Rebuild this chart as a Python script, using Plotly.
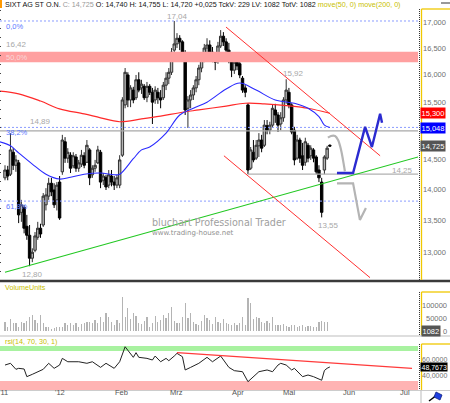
import numpy as np
import plotly.graph_objects as go

W, H = 450, 403
def PX(x): return x / W
def PY(y): return 1 - y / H

# ---------------- data ----------------
day_idx = list(range(120))  # trading-day index, 0 = first day shown (Dec 2011)

opens = [14.19, 14.32, 14.25, 14.62, 14.40, 14.44, 13.63, 13.71, 13.41, 13.27,
         12.92, 13.04, 13.24, 13.38, 13.43, 13.75, 13.89, 14.10, 13.99, 13.83,
         14.12, 14.29, 14.80, 14.52, 14.57, 14.39, 14.54, 14.35, 14.42, 14.56,
         14.45, 14.66, 14.24, 14.35, 14.44, 14.62, 14.15, 14.20, 14.07, 14.22,
         14.12, 14.07, 14.07, 14.57, 15.45, 16.00, 15.54, 15.72, 15.58, 15.91,
         15.76, 15.79, 15.59, 15.79, 15.68, 15.54, 15.68, 15.58, 15.58, 15.81,
         15.94, 16.05, 16.47, 16.59, 16.70, 16.63, 16.38, 15.39, 15.54, 15.63,
         15.76, 15.91, 16.13, 16.32, 16.51, 16.57, 16.43, 16.32, 16.28, 16.55,
         16.74, 16.63, 16.47, 16.32, 16.09, 16.24, 16.21, 15.94, 15.76, 15.45,
         14.35, 14.62, 14.52, 14.73, 14.83, 14.74, 15.08, 15.00, 15.09, 15.36,
         15.27, 15.11, 15.22, 15.54, 15.68, 15.45, 15.00, 14.52, 14.83, 14.56,
         14.45, 14.74, 14.56, 14.66, 14.54, 14.32, 14.12, 14.32, 14.52, 14.740]
closes = [14.32, 14.22, 14.66, 14.40, 14.49, 13.59, 13.75, 13.38, 13.27, 12.92,
          13.01, 13.26, 13.38, 13.29, 13.89, 13.91, 14.10, 13.96, 13.75, 14.07,
          13.54, 14.83, 14.52, 14.62, 14.35, 14.56, 14.35, 14.44, 14.57, 14.40,
          14.74, 14.19, 14.35, 14.40, 14.66, 14.12, 14.22, 14.04, 14.24, 14.12,
          14.07, 14.19, 14.49, 15.54, 16.05, 15.54, 15.76, 15.54, 15.91, 15.72,
          15.83, 15.58, 15.79, 15.68, 15.50, 15.72, 15.58, 15.54, 15.81, 15.94,
          16.05, 16.43, 16.59, 16.70, 16.63, 16.43, 15.36, 15.54, 15.63, 15.76,
          15.91, 16.13, 16.32, 16.51, 16.57, 16.43, 16.32, 16.24, 16.55, 16.74,
          16.63, 16.47, 16.32, 16.09, 16.24, 16.17, 16.00, 15.72, 15.68, 14.32,
          14.66, 14.49, 14.74, 14.83, 14.69, 15.09, 15.00, 15.09, 15.39, 15.27,
          15.09, 15.22, 15.54, 15.72, 15.45, 14.97, 14.49, 14.83, 14.52, 14.40,
          14.80, 14.52, 14.69, 14.52, 14.29, 14.19, 13.63, 14.54, 14.69, 14.725]
highs = [14.40, 14.39, 14.95, 14.69, 14.57, 14.49, 13.83, 13.75, 13.59, 13.43,
         13.07, 13.32, 13.48, 13.45, 13.94, 14.02, 14.19, 14.19, 14.10, 14.12,
         14.22, 14.92, 14.88, 14.69, 14.62, 14.62, 14.59, 14.49, 14.66, 14.62,
         14.83, 14.69, 14.40, 14.49, 14.73, 14.66, 14.27, 14.24, 14.32, 14.32,
         14.22, 14.24, 14.57, 15.59, 16.13, 16.05, 15.81, 15.78, 16.00, 16.05,
         15.91, 15.83, 15.87, 15.83, 15.76, 15.79, 15.76, 15.72, 15.87, 16.05,
         16.13, 16.51, 17.04, 16.80, 16.76, 16.66, 16.47, 15.61, 15.72, 15.81,
         15.98, 16.19, 16.43, 16.59, 16.70, 16.66, 16.53, 16.43, 16.63, 16.86,
         16.82, 16.70, 16.61, 16.36, 16.28, 16.32, 16.28, 15.98, 15.81, 15.48,
         14.71, 14.83, 14.83, 14.95, 14.92, 15.18, 15.18, 15.15, 15.45, 15.47,
         15.32, 15.32, 15.59, 15.92, 15.76, 15.48, 15.06, 14.92, 14.87, 14.78,
         14.87, 14.78, 14.74, 14.69, 14.57, 14.40, 14.19, 14.57, 14.73, 14.755]
lows = [14.15, 14.15, 14.22, 14.32, 14.29, 13.46, 13.48, 13.30, 13.20, 12.80,
        12.86, 13.01, 13.20, 13.23, 13.40, 13.66, 13.83, 13.89, 13.70, 13.66,
        13.51, 14.24, 14.44, 14.44, 14.27, 14.35, 14.29, 14.29, 14.37, 14.35,
        14.44, 14.07, 14.19, 14.29, 14.42, 14.02, 14.07, 13.99, 14.02, 14.05,
        13.99, 14.02, 14.02, 14.54, 15.39, 15.41, 15.41, 15.48, 15.54, 15.68,
        15.65, 15.54, 15.50, 15.63, 15.11, 15.47, 15.47, 15.39, 15.54, 15.72,
        15.83, 16.00, 16.40, 16.51, 16.47, 16.34, 15.27, 15.04, 15.39, 15.54,
        15.68, 15.81, 16.05, 16.24, 16.38, 16.36, 16.24, 16.09, 16.21, 16.51,
        16.55, 16.40, 16.22, 15.96, 16.02, 16.09, 15.94, 15.67, 15.59, 14.25,
        14.32, 14.45, 14.49, 14.54, 14.62, 14.71, 14.93, 14.93, 15.04, 15.13,
        14.97, 15.00, 15.15, 15.47, 15.39, 14.93, 14.40, 14.49, 14.44, 14.32,
        14.39, 14.45, 14.49, 14.45, 14.25, 14.12, 13.55, 14.25, 14.49, 14.720]
volume = [37000, 17000, 46000, 30000, 30000, 17000, 37000, 33000, 41000, 56000,
          63000, 43000, 33000, 63000, 33000, 17000, 14000, 7000, 10000, 17000,
          14000, 17000, 30000, 24000, 33000, 24000, 30000, 14000, 28000, 33000,
          37000, 37000, 33000, 43000, 33000, 56000, 37000, 70000, 56000, 37000,
          24000, 43000, 33000, 135000, 56000, 89000, 46000, 70000, 59000, 33000,
          28000, 41000, 56000, 17000, 33000, 59000, 37000, 43000, 63000, 50000,
          72000, 96000, 41000, 33000, 30000, 56000, 111000, 50000, 70000, 37000,
          28000, 24000, 41000, 63000, 50000, 43000, 28000, 54000, 37000, 30000,
          46000, 33000, 28000, 24000, 30000, 24000, 30000, 56000, 24000, 129000,
          111000, 46000, 54000, 50000, 37000, 30000, 41000, 33000, 56000, 24000,
          24000, 24000, 28000, 20000, 17000, 24000, 24000, 17000, 20000, 24000,
          17000, 20000, 20000, 17000, 17000, 37000, 41000, 37000, 37000, 1082]

ma50_idx = [-2, 2, 5, 10, 15, 20, 24, 29, 35, 40, 42, 47, 50, 53, 59, 64, 69, 74,
            81, 86, 92, 99, 106, 111, 115, 117, 119]
ma50_val = [14.80, 14.73, 14.61, 14.42, 14.25, 14.17, 14.20, 14.25, 14.27, 14.24,
            14.25, 14.51, 14.66, 14.71, 14.95, 15.27, 15.39, 15.50, 15.74, 15.85,
            15.72, 15.54, 15.48, 15.39, 15.24, 15.09, 15.048]
ma200_idx = [-2, 5, 13, 20, 29, 35, 42, 50, 57, 64, 71, 81, 88, 95, 105, 111, 119]
ma200_val = [15.70, 15.65, 15.52, 15.38, 15.29, 15.22, 15.15, 15.20, 15.25, 15.31,
             15.36, 15.43, 15.48, 15.47, 15.43, 15.39, 15.300]

rsi_idx = [0, 2, 4, 5, 7, 8, 10, 14, 16, 18, 20, 21, 23, 27, 30, 32, 35, 37, 40, 42,
           44, 45, 47, 48, 49, 52, 54, 55, 57, 59, 60, 62, 63, 65, 66, 68, 71, 74,
           76, 79, 82, 84, 87, 89, 90, 92, 93, 96, 98, 100, 101, 103, 105, 106,
           109, 111, 113, 116, 117, 118, 119]
rsi_val = [51.3, 53.6, 45.6, 46.9, 46.0, 35.8, 38.9, 45.6, 53.6, 46.9, 51.3, 60.2,
           55.7, 55.7, 53.6, 55.7, 48.2, 53.6, 46.9, 55.7, 75.7, 71.3, 61.6, 67.8,
           61.6, 60.2, 58.0, 63.3, 55.7, 60.2, 57.1, 63.3, 66.9, 62.4, 44.7, 48.2,
           53.6, 61.6, 55.7, 63.3, 48.2, 43.8, 42.4, 29.1, 32.2, 38.0, 42.4, 44.7,
           42.4, 51.3, 53.6, 51.3, 44.7, 46.9, 35.8, 38.0, 35.8, 31.0, 44.0, 47.0,
           48.7673]
rsi_trend_idx = [63, 149.1]
rsi_trend_val = [67.8, 46.9]

# drawings (index, price)
green_idx = [0, 151.3]
green_val = [12.71, 14.54]
chan_up_idx = [80.95, 137.4]
chan_up_val = [16.92, 14.56]
chan_lo_idx = [80.2, 133.7]
chan_lo_val = [14.56, 12.63]
proj_blue_idx = [121.6, 127.5, 131.9, 134.4, 137.4, 138.1]
proj_blue_val = [14.27, 14.27, 15.06, 14.71, 15.29, 15.13]
proj_gray1_idx = [118.3, 119.4, 120.9, 122.0, 123.1, 123.8, 124.5]
proj_gray1_val = [14.87, 14.90, 14.90, 14.83, 14.66, 14.49, 14.30]
proj_gray2_idx = [121.6, 127.5, 130.0, 132.2]
proj_gray2_val = [14.10, 14.10, 13.51, 13.70]

fib_levels = [17.04, 15.05, 13.81]
fib_names = ["0,0%", "38,2%", "61,8%"]
band_lo, band_hi = 16.24, 16.44
gray_full = 14.99
gray_support = 14.25
gray_support_start = 89

month_pos = [-0.4, 20, 42.5, 63, 85.5, 104, 126, 146.5]
month_lbl = ["'11", "'12", "Feb", "Mrz", "Apr", "Mai", "Jun", "Jul"]
price_ticks = [13.0, 13.5, 14.0, 14.5, 15.5, 16.0, 16.5, 17.0]   # 15,000 is hidden behind value boxes
vol_ticks = [0, 50000, 100000]
rsi_ticks = [40, 60]

def de(v, n):
    return f"{v:.{n}f}".replace(".", ",")

XL, XR = -1.83, 151.28
fig = go.Figure()

# red resistance band
fig.add_trace(go.Scatter(x=[XL, XR, XR, XL, XL], y=[band_lo, band_lo, band_hi, band_hi, band_lo],
                         mode="lines", fill="toself", fillcolor="#ffa0a0", line=dict(width=0),
                         hoverinfo="skip"))
# fib lines
for lv in fib_levels:
    fig.add_trace(go.Scatter(x=[XL, XR], y=[lv, lv], mode="lines",
                             line=dict(color="#8a9cff", width=1, dash="2px,2px"), hoverinfo="skip"))
# gray horizontals
fig.add_trace(go.Scatter(x=[XL, XR], y=[gray_full, gray_full], mode="lines",
                         line=dict(color="#a8a8a8", width=1.3), hoverinfo="skip"))
fig.add_trace(go.Scatter(x=[gray_support_start, XR], y=[gray_support, gray_support], mode="lines",
                         line=dict(color="#b0b0b0", width=1.3), hoverinfo="skip"))
# moving averages
fig.add_trace(go.Scatter(x=ma200_idx, y=ma200_val, mode="lines",
                         line=dict(color="#ff2a2a", width=1.2, shape="spline"), hoverinfo="skip"))
fig.add_trace(go.Scatter(x=ma50_idx, y=ma50_val, mode="lines",
                         line=dict(color="#2a2aff", width=1.1, shape="spline"), hoverinfo="skip"))
# candles
fig.add_trace(go.Candlestick(x=day_idx, open=opens, high=highs, low=lows, close=closes,
                             increasing=dict(line=dict(color="#303030", width=1), fillcolor="#b4b4b4"),
                             decreasing=dict(line=dict(color="#000000", width=1), fillcolor="#000000"),
                             whiskerwidth=0, hoverinfo="skip"))
# trend lines
fig.add_trace(go.Scatter(x=green_idx, y=green_val, mode="lines",
                         line=dict(color="#22c822", width=1.2), hoverinfo="skip"))
fig.add_trace(go.Scatter(x=chan_up_idx, y=chan_up_val, mode="lines",
                         line=dict(color="#ff3030", width=1), hoverinfo="skip"))
fig.add_trace(go.Scatter(x=chan_lo_idx, y=chan_lo_val, mode="lines",
                         line=dict(color="#ff3030", width=1), hoverinfo="skip"))
# projections
fig.add_trace(go.Scatter(x=proj_gray1_idx, y=proj_gray1_val, mode="lines",
                         line=dict(color="#b4b4b4", width=2.2, shape="spline"), hoverinfo="skip"))
fig.add_trace(go.Scatter(x=proj_gray2_idx, y=proj_gray2_val, mode="lines",
                         line=dict(color="#b4b4b4", width=2.2), hoverinfo="skip"))
fig.add_trace(go.Scatter(x=proj_blue_idx, y=proj_blue_val, mode="lines",
                         line=dict(color="#2b2bd0", width=2.4), hoverinfo="skip"))

# volume
fig.add_trace(go.Bar(x=day_idx, y=volume, width=0.45, marker=dict(color="#b4b4b4", line=dict(width=0)),
                     xaxis="x2", yaxis="y2", hoverinfo="skip"))
# rsi
fig.add_trace(go.Scatter(x=rsi_idx, y=rsi_val, mode="lines", line=dict(color="#222222", width=1),
                         xaxis="x3", yaxis="y3", hoverinfo="skip"))
fig.add_trace(go.Scatter(x=rsi_trend_idx, y=rsi_trend_val, mode="lines", line=dict(color="#ff3b3b", width=1.2),
                         xaxis="x3", yaxis="y3", hoverinfo="skip"))

lg_lo = np.log10(17 * np.exp(-257 / 857))
lg_hi = np.log10(17 * np.exp(14 / 857))

axis_common = dict(showgrid=False, zeroline=False, showline=False, showticklabels=False, ticks="")
fig.update_layout(
    width=W, height=H, margin=dict(l=0, r=0, t=0, b=0),
    paper_bgcolor="white", plot_bgcolor="white", showlegend=False,
    boxgap=0.12, boxgroupgap=0, bargap=0, hovermode=False,
    font=dict(family="Liberation Sans", size=8, color="#666"),
    xaxis=dict(domain=[0, PX(418)], range=[XL, XR], anchor="y",
               rangeslider=dict(visible=False), **axis_common),
    yaxis=dict(domain=[PY(280), PY(9)], type="log", range=[lg_lo, lg_hi], anchor="x", **axis_common),
    xaxis2=dict(domain=[0, PX(418)], range=[XL, XR], anchor="y2", matches="x", **axis_common),
    yaxis2=dict(domain=[PY(335), PY(283)], range=[-15750, 189000], anchor="x2", **axis_common),
    xaxis3=dict(domain=[0, PX(418)], range=[XL, XR], anchor="y3", matches="x", **axis_common),
    yaxis3=dict(domain=[PY(390), PY(337)], range=[18, 88.7], anchor="x3", **axis_common),
)

shapes = []
def pline(x0, y0, x1, y1, color, width=1, dash=None):
    d = dict(type="line", xref="paper", yref="paper", x0=PX(x0), y0=PY(y0), x1=PX(x1), y1=PY(y1),
             line=dict(color=color, width=width))
    if dash:
        d["line"]["dash"] = dash
    shapes.append(d)

# rsi bands
shapes.append(dict(type="rect", xref="x3", yref="y3", x0=XL, x1=XR, y0=70, y1=76.7,
                   fillcolor="#a8f2a0", line=dict(width=0), layer="below"))
shapes.append(dict(type="rect", xref="x3", yref="y3", x0=XL, x1=XR, y0=18, y1=30,
                   fillcolor="#ffb3b3", line=dict(width=0), layer="below"))
# separators
pline(0, 281, 450, 281, "#3a3a3a", 2.5)
pline(0, 336, 450, 336, "#bdbdbd", 1)
pline(0, 390.5, 450, 390.5, "#cccccc", 1)
# right axis decorations
for (t, b) in [(9, 280), (292, 335), (344, 390)]:
    pline(419.5, t, 419.5, b, "#333333", 1, "1px,1px")
    pline(421.5, t, 421.5, b, "#f0c800", 1.3)
    pline(421.5, t, 450, t, "#f0c800", 1.3)
pline(0.5, 10, 0.5, 280, "#444444", 1, "1px,8px")
# bottom right corner box
pline(421, 390.5, 421, 403, "#bbbbbb", 1)
shapes.append(dict(type="path", xref="paper", yref="paper",
                   path=f"M {PX(429)} {PY(401)} L {PX(437)} {PY(395)}",
                   line=dict(color="#000", width=1.5)))
shapes.append(dict(type="path", xref="paper", yref="paper",
                   path=f"M {PX(436)} {PY(392)} L {PX(442)} {PY(395)} L {PX(440)} {PY(400)} L {PX(434)} {PY(397)} Z",
                   fillcolor="#2040e0", line=dict(color="#102080", width=0.8)))
# top decorations
shapes.append(dict(type="rect", xref="paper", yref="paper", x0=0, x1=PX(2), y0=PY(8), y1=1,
                   fillcolor="#ff9900", line=dict(width=0)))
pline(441, 3, 450, 3, "#999999", 2)
fig.update_layout(shapes=shapes)

ann = []
def txt(x, y, s, size=8, color="#a0a0a0", anchor="center", family="Liberation Sans"):
    ann.append(dict(xref="paper", yref="paper", x=PX(x), y=PY(y), text=s, showarrow=False,
                    xanchor=anchor, yanchor="middle", font=dict(size=size, color=color, family=family)))

yel = "#c8c000"
chg = 0.025
head = (f"SIXT AG ST O.N. <span style='color:#999'>C: {de(closes[-1], 3)}</span> "
        f"O: {de(opens[-1], 3)} H: {de(highs[-1], 3)} L: {de(lows[-1], 3)} "
        f"+{de(chg, 3)} TckV: 229 LV: {volume[-1]} TotV: {volume[-1]} "
        f"<span style='color:{yel}'>move(50, 0)</span> <span style='color:{yel}'>move(200, 0)</span>")
txt(2.5, 4.5, head, 7.2, "#111", "left")
txt(3, 287.5, "VolumeUnits", 7.2, yel, "left")
txt(3, 341.5, "rsi(14, 70, 30, 1)", 7.2, yel, "left")

# fib & level labels
fib_py = [27, 132.5, 207]
for name, yy in zip(fib_names, fib_py):
    txt(4, yy, name, 7.5, "#5b78ff", "left")
txt(4, 57, "50,0%", 7.5, "#f7d8d8", "left")
txt(4, 44.5, "16,42", 8, "#a8a8a8", "left")
txt(40, 121, "14,89", 8, "#a8a8a8")
txt(177, 16, de(max(highs), 2), 8, "#a8a8a8")
txt(293, 73, de(highs[103], 2), 8, "#a8a8a8")
txt(402, 170.5, de(gray_support, 2), 8, "#a8a8a8")
txt(328, 225, de(min(lows[100:]), 2), 8, "#a8a8a8")
txt(32, 274, de(min(lows), 2), 8, "#a8a8a8")
txt(150, 222, "bluchart Professional Trader", 9.6, "#a0a0a0", "left", "DejaVu Sans")
txt(150, 233, "www.trading-house.net", 7, "#909090", "left", "DejaVu Sans")

# month labels
for p, l in zip(month_pos, month_lbl):
    ann.append(dict(xref="x3", yref="paper", x=p, y=PY(392), text=l, showarrow=False,
                    xanchor="center", yanchor="middle", font=dict(size=7.5, color="#555")))

# right axis labels
for v in price_ticks:
    ann.append(dict(xref="paper", yref="y", x=PX(448), y=np.log10(v), text=de(v, 3), showarrow=False,
                    xanchor="right", yanchor="middle", font=dict(size=7.5, color="#707070")))
for v in vol_ticks:
    ann.append(dict(xref="paper", yref="y2", x=PX(449), y=v, text=str(v), showarrow=False,
                    xanchor="right", yanchor="middle", font=dict(size=7.5, color="#707070")))
rsi_shift = {60: -1, 40: -2}
for v in rsi_ticks:
    ann.append(dict(xref="paper", yref="y3", x=PX(449), y=v, text=de(v, 4), showarrow=False,
                    xanchor="right", yanchor="middle", yshift=rsi_shift[v],
                    font=dict(size=7, color="#707070")))

# value boxes
def box(yref, yval, s, bg, x0=420, size=7.5):
    ann.append(dict(xref="paper", yref=yref, x=PX(x0), y=yval, text=s, showarrow=False,
                    xanchor="left", yanchor="middle", bgcolor=bg, borderpad=0.5,
                    font=dict(size=size, color="white")))
box("y", np.log10(ma200_val[-1]), de(ma200_val[-1], 3), "#ff0000")
box("y", np.log10(ma50_val[-1]), de(ma50_val[-1], 3), "#0000ff")
box("y", np.log10(closes[-1]), de(closes[-1], 3), "#555555")
box("y2", 0, str(volume[-1]), "#555555", 421)
box("y3", rsi_val[-1], de(rsi_val[-1], 4), "#000000", 420, 7)

fig.update_layout(annotations=ann)
fig.write_html("out.html", config={"displayModeBar": False, "staticPlot": True},
               post_script="document.body.style.margin='0px';document.body.style.overflow='hidden';")
